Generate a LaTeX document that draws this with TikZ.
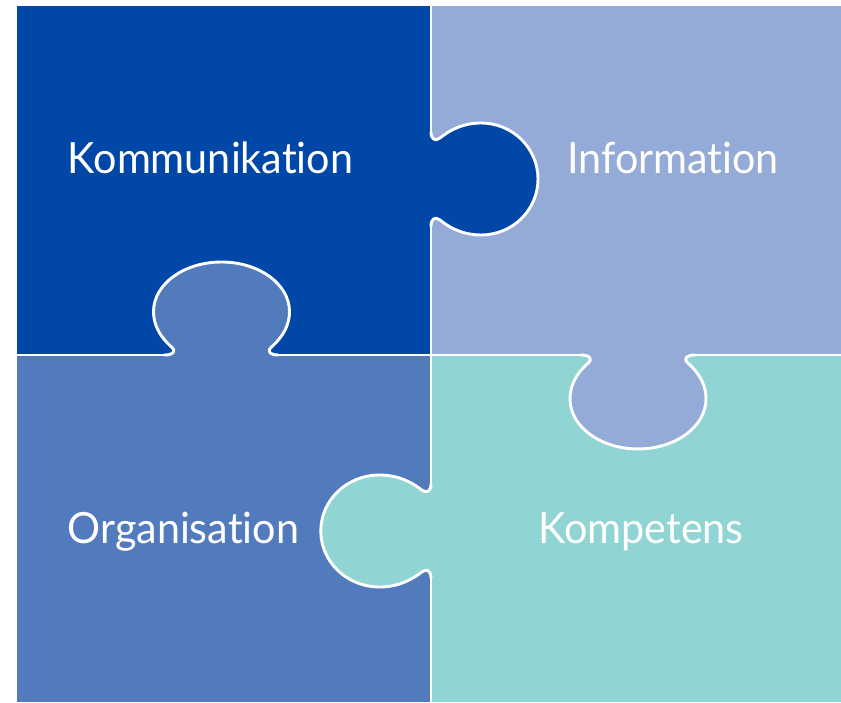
\documentclass[tikz,border=0pt]{standalone}
\usepackage{fontspec}
\setmainfont{Lato}[Ligatures={NoCommon,NoRare,NoDiscretionary},FakeStretch=0.96]
\begin{document}
\begin{tikzpicture}[x=1pt,y=1pt,line cap=round,line join=round]
\definecolor{cKom}{HTML}{0047A8}
\definecolor{cInf}{HTML}{93ABD6}
\definecolor{cOrg}{HTML}{527BBE}
\definecolor{cKmp}{HTML}{91D4D4}
\tikzset{
  divider/.style={draw=white,line width=2.9pt},
  label/.style={text=white,font=\fontsize{43}{48}\selectfont,anchor=base,inner sep=0pt},
}
\def\tabcurve{(-47,0) .. controls (-40,0) and (-37,4) .. (-41,9)
  .. controls (-45,14) and (-56,28) .. (-56,50)
  .. controls (-56,81.5) and (-31,107) .. (0,107)
  .. controls (31,107) and (56,81.5) .. (56,50)
  .. controls (56,28) and (45,14) .. (41,9)
  .. controls (37,4) and (40,0) .. (47,0)}
\useasboundingbox (0,0) rectangle (841,702);
% quadrants
\fill[cKom] (17,347) rectangle (431,696);
\fill[cInf] (431,347) rectangle (841,696);
\fill[cOrg] (17,0) rectangle (431,347);
\fill[cKmp] (431,0) rectangle (841,347);
% tabs
\begin{scope}[shift={(431,523)},rotate=-90]
  \fill[cKom] \tabcurve -- cycle;
  \draw[divider] \tabcurve;
\end{scope}
\begin{scope}[shift={(431,171)},rotate=90,yscale=1.03]
  \fill[cKmp] \tabcurve -- cycle;
  \draw[divider] \tabcurve;
\end{scope}
\begin{scope}[shift={(221.5,347)},xscale=1.214,yscale=0.869]
  \fill[cOrg] \tabcurve -- cycle;
  \draw[divider] \tabcurve;
\end{scope}
\begin{scope}[shift={(638,347)},xscale=1.214,yscale=-0.878]
  \fill[cInf] \tabcurve -- cycle;
  \draw[divider] \tabcurve;
\end{scope}
% straight dividers
\draw[divider,line cap=butt] (431,696) -- (431,570);
\draw[divider] (431,476) -- (431,218);
\draw[divider,line cap=butt] (431,124) -- (431,0);
\draw[divider,line cap=butt] (17,347) -- (164.5,347);
\draw[divider] (278.5,347) -- (581,347);
\draw[divider,line cap=butt] (695,347) -- (841,347);
% labels
\node[label] (kom) at (210.5,528) {Kommunikation};
\node[label] (inf) at (673,528) {Information};
\node[label] (org) at (183.5,158) {Organisation};
\node[label] (kmp) at (641,158) {Kompetens};
\end{tikzpicture}
\end{document}
